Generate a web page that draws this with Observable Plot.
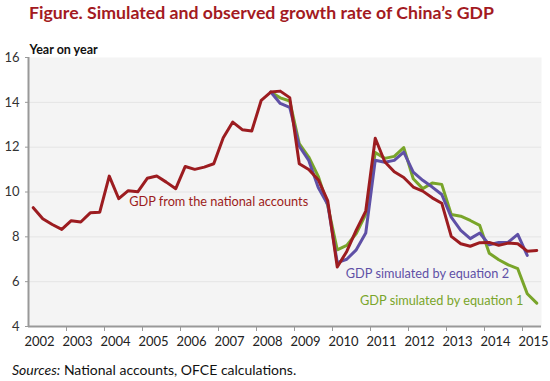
<!DOCTYPE html>
<html>
<head>
<meta charset="utf-8">
<script src="https://cdn.jsdelivr.net/npm/d3@7"></script>
<script src="https://cdn.jsdelivr.net/npm/@observablehq/plot@0.6"></script>
<style>
  html, body { margin: 0; padding: 0; background: #fff; }
  body { width: 550px; height: 381px; overflow: hidden; font-family: Lato, "Open Sans", sans-serif; }
  #title { height: 30px; line-height: 26px; padding-left: 29px; font-size: 17.7px; font-weight: 700; color: #a31a22; white-space: nowrap; }
  #chart svg { display: block; }
  #caption { height: 21px; line-height: 20px; padding-left: 12px; font-size: 14px; color: #111; white-space: nowrap; }
</style>
</head>
<body>
<div id="title">Figure. Simulated and observed growth rate of China’s GDP</div>
<div id="chart"></div>
<div id="caption"><i>Sources:</i> National accounts, OFCE calculations.</div>
<script>
// Quarterly periods 2002Q1 .. 2015Q2
const years = [2002, 2003, 2004, 2005, 2006, 2007, 2008, 2009, 2010, 2011, 2012, 2013, 2014, 2015];
const quarters = years.flatMap(y => ["Q1", "Q2", "Q3", "Q4"].map(q => y + q)).slice(0, 54);

// GDP from the national accounts (year on year, %)
const gdpNational = [
  9.30, 8.81, 8.55, 8.33, 8.72, 8.66, 9.07, 9.10,
  10.71, 9.70, 10.06, 10.01, 10.61, 10.71, 10.44, 10.15,
  11.14, 11.01, 11.11, 11.26, 12.42, 13.12, 12.78, 12.72,
  14.09, 14.46, 14.50, 14.21, 11.26, 11.00, 10.55, 9.60,
  6.65, 7.35, 8.30, 9.15, 12.40, 11.35, 10.90, 10.65,
  10.22, 10.04, 9.74, 9.50, 8.02, 7.69, 7.58, 7.74,
  7.75, 7.62, 7.72, 7.69, 7.36, 7.39
];
// GDP simulated by equation 1 (starts 2008Q2)
const gdpEq1 = [
  null, null, null, null, null, null, null, null,
  null, null, null, null, null, null, null, null,
  null, null, null, null, null, null, null, null,
  null, 14.46, 14.20, 14.06, 12.16, 11.56, 10.70, 9.40,
  7.42, 7.62, 8.15, 9.00, 11.76, 11.50, 11.59, 11.98,
  10.59, 10.15, 10.40, 10.34, 9.00, 8.92, 8.73, 8.51,
  7.27, 6.98, 6.75, 6.58, 5.46, 5.04
];
// GDP simulated by equation 2 (starts 2008Q2, ends 2015Q1)
const gdpEq2 = [
  null, null, null, null, null, null, null, null,
  null, null, null, null, null, null, null, null,
  null, null, null, null, null, null, null, null,
  null, 14.46, 13.95, 13.77, 12.04, 11.41, 10.20, 9.44,
  6.85, 7.00, 7.42, 8.17, 11.42, 11.33, 11.41, 11.78,
  10.89, 10.52, 10.22, 9.89, 8.88, 8.29, 7.92, 8.17,
  7.65, 7.75, 7.76, 8.11, 7.17, null
];
const yTicks = [4, 6, 8, 10, 12, 14, 16];
const seriesLabels = ["GDP from the national accounts", "GDP simulated by equation 2", "GDP simulated by equation 1"];
const labelAnchorQuarter = [10.6, 33.4, 34.9];
const labelAnchorValue = [9.58, 6.35, 5.16];

const colRed = "#9c1c20", colBlue = "#5f50a6", colGreen = "#79a52a";
const colors = [colRed, colBlue, colGreen];

const rows = quarters.map((q, i) => ({q, i: i + 0.5, nat: gdpNational[i], e1: gdpEq1[i], e2: gdpEq2[i]}));
const labels = seriesLabels.map((t, k) => ({t, x: labelAnchorQuarter[k], y: labelAnchorValue[k], c: colors[k]}));
const yearStarts = years.map((y, k) => k * 4);
const innerTicks = yearStarts.slice(1);

const chart = Plot.plot({
  width: 550,
  height: 330,
  marginTop: 27,
  marginBottom: 34,
  marginLeft: 28,
  marginRight: 9,
  style: {fontFamily: "Lato, 'Open Sans', sans-serif", fontSize: "13px", color: "#333", background: "transparent"},
  x: {domain: [0, quarters.length], axis: null},
  y: {domain: [4, 16], axis: null},
  marks: [
    Plot.frame({fill: "#f4f4f4", stroke: null}),
    Plot.gridY(yTicks.slice(1, -1), {stroke: "#e4e4e4", strokeOpacity: 1, strokeWidth: 1}),
    Plot.axisY(yTicks, {tickSize: 3, tickPadding: 6, stroke: "#999", fontSize: 13, fill: "#333", label: null}),
    Plot.axisX(innerTicks, {tickSize: 5, stroke: "#999", tickFormat: () => "", label: null}),
    Plot.axisX(yearStarts, {tickSize: 0, tickPadding: 10, dx: 11, tickFormat: d => String(years[d / 4]), fontSize: 13, fill: "#222", label: null}),
    Plot.ruleX([0], {stroke: "#999", strokeWidth: 2}),
    Plot.ruleY([4], {stroke: "#999", strokeWidth: 2}),
    Plot.line(rows.filter(d => d.e1 != null), {x: "i", y: "e1", stroke: colGreen, strokeWidth: 3}),
    Plot.line(rows.filter(d => d.e2 != null), {x: "i", y: "e2", stroke: colBlue, strokeWidth: 3}),
    Plot.line(rows, {x: "i", y: "nat", stroke: colRed, strokeWidth: 3}),
    Plot.text(labels, {x: "x", y: "y", text: "t", fill: "c", textAnchor: "start", fontSize: 12.75}),
    Plot.text(["Year on year"], {frameAnchor: "top-left", dx: 1, dy: -12, textAnchor: "start", fontWeight: "bold", fontSize: 12.5, fill: "#111"})
  ]
});
document.getElementById("chart").appendChild(chart);
</script>
</body>
</html>
